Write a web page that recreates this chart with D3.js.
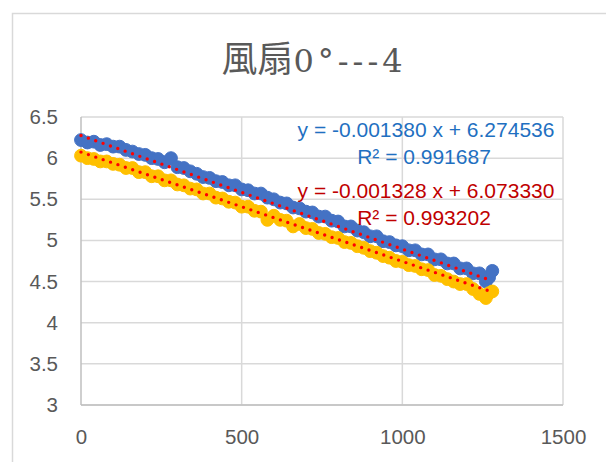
<!DOCTYPE html>
<html>
<head>
<meta charset="utf-8">
<script src="https://cdn.jsdelivr.net/npm/d3@7"></script>
<style>
  body { margin: 0; background: #fff; }
  svg { display: block; }
</style>
</head>
<body>
<div id="chart"></div>
<script>
var width = 606;
var height = 462;

var titleCJK = "風扇";
var titleRest = "0°---4";

// time (x) shared by both series
var seconds = [0, 20, 40, 60, 80, 100, 120, 140, 160, 180, 200, 220, 240, 260, 280, 300,
  320, 340, 360, 380, 400, 420, 440, 460, 480, 500, 520, 540, 560, 580, 600, 620,
  640, 660, 680, 700, 720, 740, 760, 780, 800, 820, 840, 860, 880, 900, 920, 940,
  960, 980, 1000, 1020, 1040, 1060, 1080, 1100, 1120, 1140, 1160, 1180, 1200, 1220,
  1240, 1260, 1270, 1280];

var blueVals = [6.22, 6.19, 6.20, 6.16, 6.17, 6.14, 6.14, 6.10, 6.08, 6.05, 6.04, 6.00,
  5.99, 5.95, 6.00, 5.89, 5.88, 5.84, 5.81, 5.77, 5.76, 5.72, 5.71, 5.67, 5.67, 5.62,
  5.61, 5.57, 5.57, 5.52, 5.50, 5.46, 5.45, 5.40, 5.39, 5.35, 5.34, 5.29, 5.29, 5.24,
  5.23, 5.17, 5.17, 5.12, 5.10, 5.05, 5.05, 4.99, 4.98, 4.94, 4.93, 4.88, 4.88, 4.83,
  4.83, 4.77, 4.77, 4.72, 4.72, 4.66, 4.66, 4.60, 4.60, 4.50, 4.55, 4.63];

var orangeVals = [6.03, 6.00, 5.99, 5.96, 5.96, 5.93, 5.92, 5.88, 5.88, 5.83, 5.83, 5.78,
  5.78, 5.73, 5.73, 5.68, 5.67, 5.63, 5.62, 5.57, 5.57, 5.52, 5.51, 5.47, 5.46, 5.41,
  5.41, 5.36, 5.35, 5.25, 5.30, 5.25, 5.24, 5.17, 5.20, 5.15, 5.14, 5.09, 5.08, 5.04,
  5.03, 4.98, 4.97, 4.93, 4.91, 4.87, 4.85, 4.81, 4.79, 4.75, 4.74, 4.70, 4.69, 4.65,
  4.64, 4.58, 4.57, 4.53, 4.50, 4.47, 4.47, 4.41, 4.35, 4.30, 4.36, 4.38];

// trendline fit shown on the chart
var blueFit = {slope: -0.001380, intercept: 6.274536, r2: "0.991687"};
var orangeFit = {slope: -0.001328, intercept: 6.073330, r2: "0.993202"};

var xTicks = [0, 500, 1000, 1500];
var yTicks = [3, 3.5, 4, 4.5, 5, 5.5, 6, 6.5];

var svg = d3.select("#chart").append("svg")
  .attr("width", width)
  .attr("height", height)

// outer chart border
svg.append("rect")
  .attr("x", 12.5).attr("y", 13.5)
  .attr("width", 620).attr("height", 480)
  .attr("fill", "none")
  .attr("stroke", "#d9d9d9")
  .attr("stroke-width", 1.5)

var x = d3.scaleLinear().domain([0, 1500]).range([81, 563])
var y = d3.scaleLinear().domain([3, 6.5]).range([405, 117])

// gridlines
svg.append("g")
  .selectAll("line")
  .data(yTicks)
  .enter().append("line")
  .attr("x1", x(0)).attr("x2", x(1500))
  .attr("y1", d => y(d)).attr("y2", d => y(d))
  .attr("stroke", "#d9d9d9")
  .attr("stroke-width", 1.5)

svg.append("g")
  .selectAll("line")
  .data(xTicks)
  .enter().append("line")
  .attr("x1", d => x(d)).attr("x2", d => x(d))
  .attr("y1", y(3)).attr("y2", y(6.5))
  .attr("stroke", d => d == 0 ? "#bfbfbf" : "#d9d9d9")
  .attr("stroke-width", 1.5)

svg.append("line")
  .attr("x1", x(0)).attr("x2", x(1500))
  .attr("y1", y(3)).attr("y2", y(3))
  .attr("stroke", "#bfbfbf")
  .attr("stroke-width", 1.5)

// axes (labels only)
var xAxis = svg.append("g")
  .attr("transform", "translate(0," + y(3) + ")")
  .call(d3.axisBottom(x).tickValues(xTicks).tickSize(0).tickPadding(24).tickFormat(d3.format("d")))
xAxis.select(".domain").remove()

var yAxis = svg.append("g")
  .attr("transform", "translate(" + x(0) + ",0)")
  .call(d3.axisLeft(y).tickValues(yTicks).tickSize(0).tickPadding(23).tickFormat(d => d))
yAxis.select(".domain").remove()

svg.selectAll(".tick text")
  .style("font-family", "'Liberation Sans', Arial, sans-serif")
  .style("font-size", "20.5px")
  .attr("fill", "#595959")

// title: CJK part + serif digits
var titleText = svg.append("text")
  .attr("x", 314)
  .attr("y", 72)
  .attr("text-anchor", "middle")
  .style("font-size", "36px")
  .attr("fill", "#595959")
titleText.append("tspan")
  .style("font-family", "'Noto Sans CJK TC', sans-serif")
  .text(titleCJK)
titleText.append("tspan")
  .style("font-family", "'DejaVu Serif', serif")
  .style("font-size", "32px")
  .style("letter-spacing", "4px")
  .text(titleRest)

var blueData = seconds.map((s, i) => ({x: s, y: blueVals[i]}))
var orangeData = seconds.map((s, i) => ({x: s, y: orangeVals[i]}))

var drawMarkers = (data, color) => {
  svg.append("g")
    .selectAll("circle")
    .data(data)
    .enter().append("circle")
    .attr("cx", d => x(d.x))
    .attr("cy", d => y(d.y))
    .attr("r", 6.4)
    .attr("fill", color)
    .attr("stroke", color)
    .attr("stroke-width", 1)
}

drawMarkers(blueData, "#4472c4")
drawMarkers(orangeData, "#ffc000")

// dotted linear trendlines
var drawTrend = (fit) => {
  var x0 = d3.min(seconds), x1 = d3.max(seconds)
  svg.append("line")
    .attr("x1", x(x0)).attr("y1", y(fit.intercept + fit.slope * x0))
    .attr("x2", x(x1)).attr("y2", y(fit.intercept + fit.slope * x1))
    .attr("stroke", "#ff0000")
    .attr("stroke-width", 3.4)
    .attr("stroke-linecap", "round")
    .attr("stroke-dasharray", "0 7.8")
}
drawTrend(blueFit)
drawTrend(orangeFit)

// equation labels
var eqLabel = (fit, color, yTop) => {
  var g = svg.append("g")
    .style("font-family", "'Liberation Sans', Arial, sans-serif")
    .style("font-size", "21px")
    .attr("fill", color)
    .attr("text-anchor", "middle")
  g.append("text")
    .attr("x", 426).attr("y", yTop)
    .text("y = " + fit.slope.toFixed(6) + " x + " + fit.intercept.toFixed(6))
  g.append("text")
    .attr("x", 424).attr("y", yTop + 27)
    .text("R² = " + fit.r2)
}
eqLabel(blueFit, "#1f70c1", 137)
eqLabel(orangeFit, "#c00000", 198)
</script>
</body>
</html>
